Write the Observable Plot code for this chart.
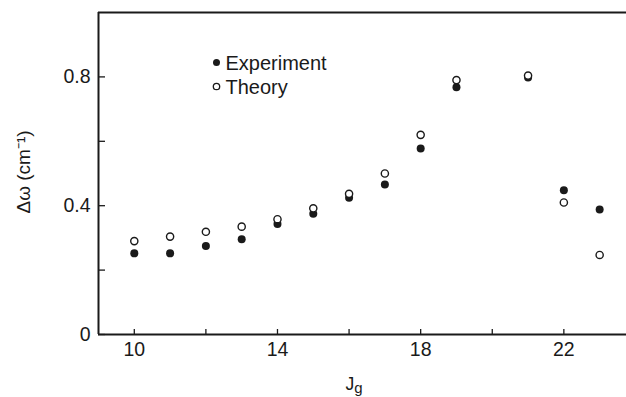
<!DOCTYPE html>
<html>
<head>
<meta charset="utf-8">
<script src="https://cdn.jsdelivr.net/npm/d3@7"></script>
<script src="https://cdn.jsdelivr.net/npm/@observablehq/plot@0.6"></script>
<style>
  html, body { margin: 0; padding: 0; background: #fff; }
  #chart svg { display: block; }
</style>
</head>
<body>
<div id="chart"></div>
<script>
// Data
const J = [10, 11, 12, 13, 14, 15, 16, 17, 18, 19, 21, 22, 23];
const experiment = [0.252, 0.252, 0.275, 0.296, 0.343, 0.375, 0.425, 0.466, 0.578, 0.768, 0.798, 0.448, 0.388];
const theory = [0.290, 0.304, 0.319, 0.335, 0.358, 0.392, 0.437, 0.500, 0.620, 0.790, 0.804, 0.410, 0.247];
const xTicks = [10, 12, 14, 16, 18, 20, 22];
const xTickLabels = [10, 14, 18, 22];
const yTicks = [0, 0.2, 0.4, 0.6, 0.8];
const yTickLabels = [0, 0.4, 0.8];
const legendItems = ["Experiment", "Theory"];

const expData = J.map((j, i) => ({J: j, v: experiment[i]}));
const thData = J.map((j, i) => ({J: j, v: theory[i]}));

const ink = "#1a1a1a";
const font = "Liberation Sans, Arial, Helvetica, sans-serif";
const xDomain = [9, 23.75];
const yDomain = [0, 1.0];

const chart = Plot.plot({
  width: 626,
  height: 397,
  marginTop: 12,
  marginBottom: 63,
  marginLeft: 98,
  marginRight: 0,
  style: {fontFamily: font, color: ink, background: "#fff"},
  x: {domain: xDomain, axis: null},
  y: {domain: yDomain, axis: null},
  marks: [
    // inward ticks
    Plot.ruleX(xTicks, {x: d => d, y1: () => yDomain[1], y2: () => yDomain[0], insetTop: 317, stroke: ink, strokeWidth: 1.3}),
    Plot.ruleY(yTicks, {y: d => d, x1: () => xDomain[0], x2: () => xDomain[1], insetRight: 521, stroke: ink, strokeWidth: 1.3}),
    // frame: left, bottom, top (no right edge)
    Plot.ruleX([xDomain[0]], {stroke: ink, strokeWidth: 2}),
    Plot.ruleY(yDomain, {stroke: ink, strokeWidth: 2}),
    // tick labels
    Plot.axisX({ticks: xTickLabels, tickSize: 0, tickPadding: 8, fontSize: 19.5, fill: ink, label: null}),
    Plot.axisY({ticks: yTickLabels, tickSize: 0, tickPadding: 8, fontSize: 19.5, fill: ink, label: null,
      tickFormat: d => d === 0 ? "0" : d.toFixed(1)}),
    // data
    Plot.dot(expData, {x: "J", y: "v", r: 4, fill: ink, stroke: "none"}),
    Plot.dot(thData, {x: "J", y: "v", r: 3.6, fill: "#fff", stroke: ink, strokeWidth: 1.4}),
    // legend
    Plot.dot([legendItems[0]], {frameAnchor: "top-left", dx: 118, dy: 50, r: 3.5, fill: ink}),
    Plot.dot([legendItems[1]], {frameAnchor: "top-left", dx: 118, dy: 74, r: 3.2, fill: "#fff", stroke: ink, strokeWidth: 1.3}),
    Plot.text([legendItems[0]], {text: d => d, frameAnchor: "top-left", dx: 127, dy: 51, textAnchor: "start", lineAnchor: "middle", fontSize: 20, fill: ink}),
    Plot.text([legendItems[1]], {text: d => d, frameAnchor: "top-left", dx: 127, dy: 75, textAnchor: "start", lineAnchor: "middle", fontSize: 20, fill: ink})
  ]
});

document.getElementById("chart").appendChild(chart);

// Axis titles (with subscript / superscript as real text)
const svg = d3.select(chart);
const xt = svg.append("text")
  .attr("x", 354).attr("y", 390)
  .attr("font-family", font).attr("font-size", 17.5).attr("fill", ink);
xt.append("tspan").text("J");
xt.append("tspan").attr("font-size", 15).attr("dy", 3).text("g");

svg.append("text")
  .attr("transform", "translate(30,172) rotate(-90)")
  .attr("text-anchor", "middle")
  .attr("font-family", font).attr("font-size", 19).attr("fill", ink)
  .text("Δω (cm⁻¹)");
</script>
</body>
</html>
